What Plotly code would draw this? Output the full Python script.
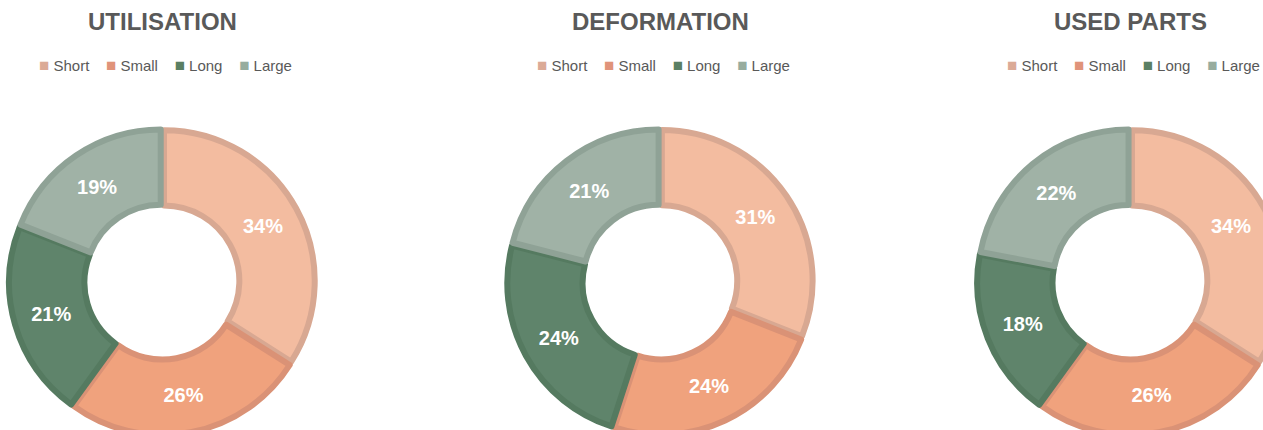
import plotly.graph_objects as go

# Category names and the three panels' shares (percent)
categories = ["Short", "Small", "Long", "Large"]
titles = ["UTILISATION", "DEFORMATION", "USED PARTS"]
utilisation = [34, 26, 21, 19]
deformation = [31, 24, 24, 21]
used_parts = [34, 26, 18, 22]
panel_values = [utilisation, deformation, used_parts]

fill_colors = ["#F3BCA0", "#F0A27D", "#5F846B", "#A0B2A6"]
edge_colors = ["#D8A892", "#DA9276", "#557A60", "#8FA296"]
key_colors = ["#DBAA97", "#E0937A", "#5A7F63", "#97AC9E"]

W, H = 1300, 470
centers_x = [162, 660, 1130]
center_y = 282
half_size = 153
pull = 0.015
font_family = "Liberation Sans, Arial, sans-serif"
text_grey = "#595959"
NBSP = "\u00a0"

fig = go.Figure()
annotations = []
for i, (title, vals) in enumerate(zip(titles, panel_values)):
    cx = centers_x[i]
    x0, x1 = (cx - half_size) / W, (cx + half_size) / W
    y0, y1 = (H - (center_y + half_size)) / H, (H - (center_y - half_size)) / H
    fig.add_trace(go.Pie(
        labels=categories,
        values=vals,
        hole=0.5,
        sort=False,
        direction="clockwise",
        rotation=0,
        pull=[pull] * len(vals),
        domain=dict(x=[max(0, x0), min(1, x1)], y=[max(0, y0), min(1, y1)]),
        marker=dict(colors=fill_colors, line=dict(color=edge_colors, width=6)),
        texttemplate="%{percent:.0%}",
        textposition="inside",
        insidetextorientation="horizontal",
        textfont=dict(family=font_family, size=20, color="white", weight="bold"),
        showlegend=False,
        hoverinfo="label+value",
    ))
    # panel title
    annotations.append(dict(
        text=f"<b>{title}</b>", x=cx / W, y=(H - 22) / H,
        xref="paper", yref="paper", xanchor="center", yanchor="middle",
        showarrow=False, font=dict(family=font_family, size=24, color=text_grey),
    ))
    # compact key row: coloured square followed by the category name
    key_items = [
        f"<span style='color:{col};font-size:17px'>■</span>{NBSP}{name}"
        for name, col in zip(categories, key_colors)
    ]
    annotations.append(dict(
        text=(NBSP * 4).join(key_items), x=(cx + 3) / W, y=(H - 66) / H,
        xref="paper", yref="paper", xanchor="center", yanchor="middle",
        showarrow=False, font=dict(family=font_family, size=15, color=text_grey),
    ))

fig.update_layout(
    width=W, height=H,
    margin=dict(l=0, r=0, t=0, b=0),
    paper_bgcolor="white", plot_bgcolor="white",
    annotations=annotations,
    showlegend=False,
)

fig.write_html(
    "out.html",
    post_script="document.body.style.margin='0';document.body.style.overflow='hidden';"
                "document.documentElement.style.overflow='hidden';",
)
